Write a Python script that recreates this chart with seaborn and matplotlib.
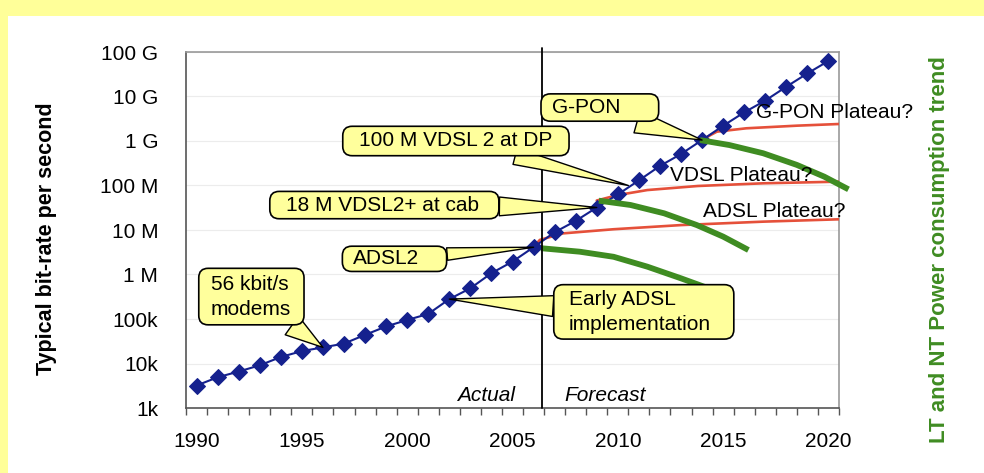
import numpy as np
import matplotlib
matplotlib.use("Agg")
import matplotlib.pyplot as plt
from matplotlib.path import Path
from matplotlib.patches import Rectangle
from matplotlib.ticker import NullLocator
import seaborn as sns

# Typical access bit-rate (bit/s), one point per year
YEARS = list(range(1990, 2021))
BIT_RATE = [3.2e3, 4.9e3, 6.6e3, 9.1e3, 1.4e4, 1.9e4, 2.3e4, 2.8e4, 4.4e4, 6.8e4,
            9.5e4, 1.3e5, 2.8e5, 4.9e5, 1.07e6, 1.95e6, 4.1e6, 8.9e6, 1.6e7, 3.2e7,
            6.3e7, 1.3e8, 2.75e8, 5.1e8, 1.05e9, 2.2e9, 4.4e9, 8.1e9, 1.66e10, 3.3e10,
            6.3e10]

# Plateau curves (red)
ADSL_PLAT_X = [2006.0, 2006.3, 2007.4, 2009.8, 2013.0, 2016.9, 2020.5]
ADSL_PLAT_Y = [4.2e6, 6.0e6, 8.4e6, 1.04e7, 1.29e7, 1.54e7, 1.74e7]
VDSL_PLAT_X = [2009.0, 2010.0, 2011.4, 2013.8, 2016.9, 2020.5]
VDSL_PLAT_Y = [4.6e7, 6.1e7, 7.9e7, 9.75e7, 1.12e8, 1.22e8]
GPON_PLAT_X = [2014.0, 2014.4, 2014.7, 2016.1, 2018.5, 2020.5]
GPON_PLAT_Y = [1.05e9, 1.36e9, 1.62e9, 1.93e9, 2.21e9, 2.41e9]

# Power consumption trend curves (green)
ADSL_PWR_X = [2006.35, 2008.2, 2009.8, 2011.4, 2013.0, 2014.3]
ADSL_PWR_Y = [3.9e6, 3.25e6, 2.5e6, 1.5e6, 8.2e5, 4.9e5]
VDSL_PWR_X = [2009.1, 2010.6, 2012.2, 2013.75, 2015.0, 2016.2]
VDSL_PWR_Y = [4.56e7, 3.65e7, 2.37e7, 1.29e7, 7.1e6, 3.55e6]
GPON_PWR_X = [2013.9, 2015.3, 2016.9, 2018.5, 2019.8, 2020.95]
GPON_PWR_Y = [1.05e9, 8.1e8, 5.3e8, 2.9e8, 1.58e8, 8.2e7]

Y_TICKS = [1e3, 1e4, 1e5, 1e6, 1e7, 1e8, 1e9, 1e10, 1e11]
Y_LABELS = ["1k", "10k", "100k", "1 M", "10 M", "100 M", "1 G", "10 G", "100 G"]
X_TICKS = [1990, 1995, 2000, 2005, 2010, 2015, 2020]
SPLIT_YEAR = 2006.4

NAVY = "#15218e"
RED = "#e5503a"
GREEN = "#3f8c22"
YELLOW = "#ffff9c"
SLIDE = "#ffff99"


def callout_box(left, right, bottom, top, radius=0.45):
    """rounded box with its own padding on each side (font-size units)"""
    def box(x0, y0, width, height, mutation_size):
        x0 -= left * mutation_size
        y0 -= bottom * mutation_size
        x1 = x0 + width + (left + right) * mutation_size
        y1 = y0 + height + (bottom + top) * mutation_size
        r = radius * mutation_size
        verts = [(x0 + r, y0), (x1 - r, y0), (x1, y0), (x1, y0 + r),
                 (x1, y1 - r), (x1, y1), (x1 - r, y1), (x0 + r, y1),
                 (x0, y1), (x0, y1 - r), (x0, y0 + r), (x0, y0),
                 (x0 + r, y0), (x0 + r, y0)]
        codes = [Path.MOVETO, Path.LINETO, Path.CURVE3, Path.CURVE3,
                 Path.LINETO, Path.CURVE3, Path.CURVE3, Path.LINETO,
                 Path.CURVE3, Path.CURVE3, Path.LINETO, Path.CURVE3,
                 Path.CURVE3, Path.CLOSEPOLY]
        return Path(verts, codes)
    return box


def callout(ax, text, tip, pos, pads, tail=0.6):
    ax.annotate(
        text, xy=tip, xycoords="data", xytext=pos, textcoords="axes fraction",
        ha="center", va="center", fontsize=15, linespacing=1.4,
        multialignment="left", zorder=8, color="black",
        bbox=dict(boxstyle=callout_box(*pads), fc=YELLOW, ec="black", lw=1.2),
        arrowprops=dict(arrowstyle=f"wedge,tail_width={tail}", fc=YELLOW,
                        ec="black", lw=1.0, shrinkA=0, shrinkB=0),
    )


sns.set_theme(style="white")
plt.rcParams["font.family"] = ["Liberation Sans", "DejaVu Sans"]
plt.rcParams.update({"text.color": "black", "axes.labelcolor": "black",
                     "xtick.color": "black", "ytick.color": "black"})

fig, ax = plt.subplots(figsize=(9.84, 4.73), dpi=100)
fig.patch.set_facecolor(SLIDE)
fig.add_artist(Rectangle((8 / 984, 0), 1, 1 - 16 / 473, transform=fig.transFigure,
                         facecolor="white", edgecolor="none", zorder=-5))
fig.subplots_adjust(left=186 / 984, right=839 / 984, top=1 - 52 / 473, bottom=1 - 408 / 473)

ax.set_yscale("log")

# plateaus
for xs, ys in [(ADSL_PLAT_X, ADSL_PLAT_Y), (VDSL_PLAT_X, VDSL_PLAT_Y), (GPON_PLAT_X, GPON_PLAT_Y)]:
    sns.lineplot(x=xs, y=ys, ax=ax, color=RED, linewidth=1.9, sort=False,
                 estimator=None, zorder=3)
    ax.lines[-1].set_solid_joinstyle("round")

# blue bit-rate trend
sns.lineplot(x=YEARS, y=BIT_RATE, ax=ax, color=NAVY, linewidth=1.5, marker="D",
             markersize=8, markeredgecolor=NAVY, markerfacecolor=NAVY, zorder=4)

# power trends
for xs, ys in [(ADSL_PWR_X, ADSL_PWR_Y), (VDSL_PWR_X, VDSL_PWR_Y), (GPON_PWR_X, GPON_PWR_Y)]:
    sns.lineplot(x=xs, y=ys, ax=ax, color=GREEN, linewidth=4.2, sort=False,
                 estimator=None, zorder=5)
    ax.lines[-1].set_clip_on(False)
    ax.lines[-1].set_solid_capstyle("butt")
    ax.lines[-1].set_solid_joinstyle("round")

ax.axvline(SPLIT_YEAR, ymin=0, ymax=1.01, color="black", lw=1.3, zorder=6, clip_on=False)

ax.set_xlim(1989.5, 2020.5)
ax.set_ylim(Y_TICKS[0], Y_TICKS[-1])
ax.set_xticks(X_TICKS)
ax.set_xticks(np.arange(1989.5, 2021, 1.0), minor=True)
ax.set_yticks(Y_TICKS, labels=Y_LABELS)
ax.yaxis.set_minor_locator(NullLocator())
ax.tick_params(axis="x", which="major", length=0, pad=17, labelsize=15)
ax.tick_params(axis="x", which="minor", length=5, width=1, color="#555555", direction="out", bottom=True)
ax.tick_params(axis="y", which="major", length=0, pad=20, labelsize=15)
ax.yaxis.grid(True, color="#ececec", lw=0.8)
ax.set_axisbelow(True)

for side in ["left", "bottom"]:
    ax.spines[side].set_color("#555555")
for side in ["top", "right"]:
    ax.spines[side].set_color("#999999")
for side in ax.spines:
    ax.spines[side].set_linewidth(1.2)

ax.set_ylabel("Typical bit-rate per second", fontsize=15.5, fontweight="bold", color="black")
ax.yaxis.set_label_coords(-0.1975, 0.476)
fig.text(940 / 984, 1 - 250 / 473, "LT and NT Power consumption trend", rotation=90,
         ha="center", va="center", fontsize=16, fontweight="bold", color=GREEN)

ax.text(0.504, 0.0365, "Actual", transform=ax.transAxes, ha="right", va="center",
        fontsize=15, style="italic")
ax.text(0.580, 0.0365, "Forecast", transform=ax.transAxes, ha="left", va="center",
        fontsize=15, style="italic")

ax.text(0.873, 0.829, "G-PON Plateau?", transform=ax.transAxes, ha="left", va="center",
        fontsize=15, zorder=7)
ax.text(0.741, 0.654, "VDSL Plateau?", transform=ax.transAxes, ha="left", va="center",
        fontsize=15, zorder=7)
ax.text(0.792, 0.551, "ADSL Plateau?", transform=ax.transAxes, ha="left", va="center",
        fontsize=15, zorder=7)

i = YEARS.index
callout(ax, "G-PON", (2014, BIT_RATE[i(2014)]), (0.613, 0.844), (0.53, 1.83, 0.2, 0.2), tail=1.1)
callout(ax, "100 M VDSL 2 at DP", (2010.5, 1e8), (0.413, 0.750), (0.78, 0.8, 0.25, 0.25), tail=0.8)
callout(ax, "18 M VDSL2+ at cab", (2009, BIT_RATE[i(2009)]), (0.301, 0.570), (0.78, 0.95, 0.2, 0.2), tail=0.9)
callout(ax, "ADSL2", (2006, BIT_RATE[i(2006)]), (0.307, 0.419), (0.53, 1.3, 0.15, 0.15), tail=0.6)
callout(ax, "56 kbit/s\nmodems", (1996, BIT_RATE[i(1996)]), (0.0995, 0.313), (0.58, 0.62, 0.3, 0.3), tail=1.1)
callout(ax, "Early ADSL\nimplementation", (2002, BIT_RATE[i(2002)]), (0.695, 0.270), (0.72, 1.1, 0.25, 0.25), tail=1.0)

fig.savefig("out.png", dpi=100, facecolor=fig.get_facecolor())
